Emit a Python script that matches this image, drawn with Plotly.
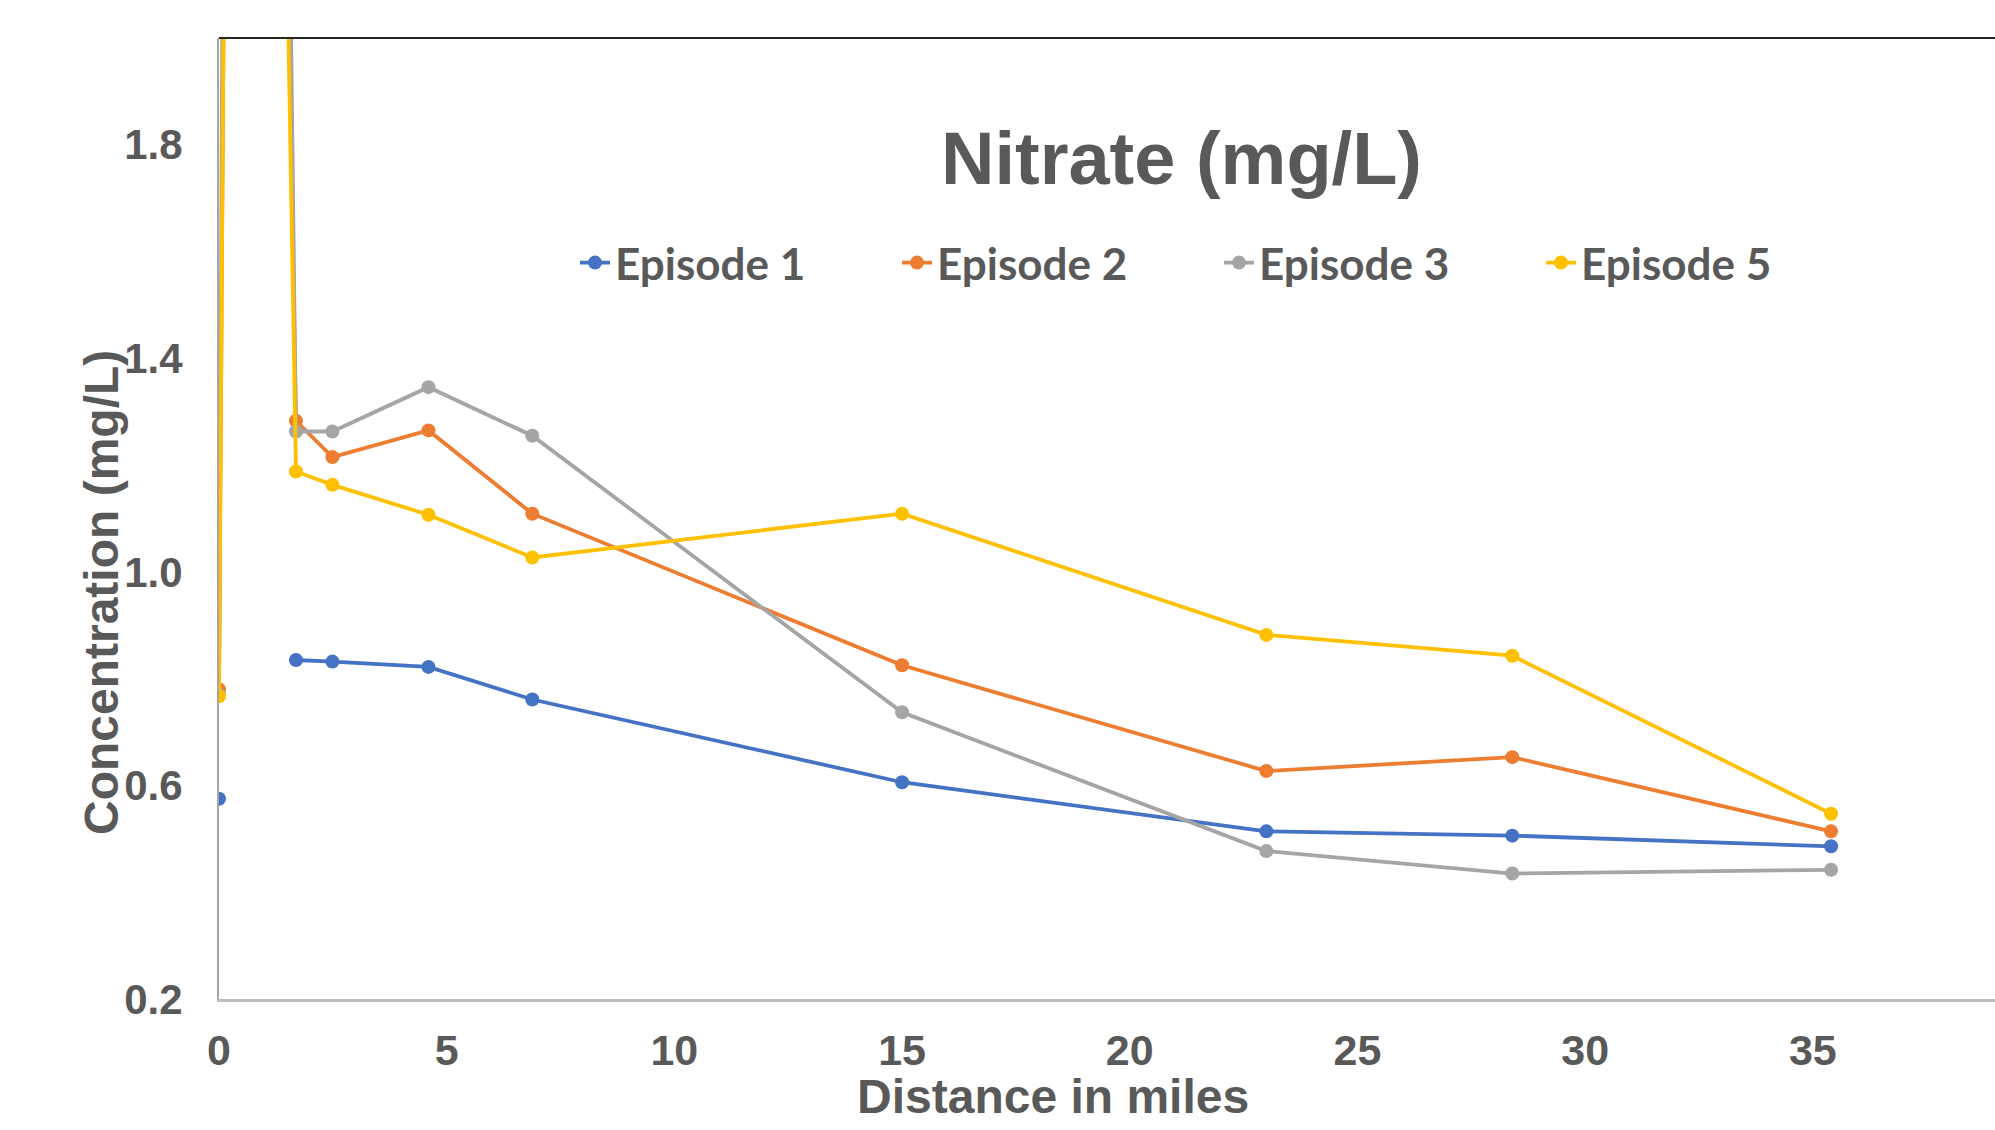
import plotly.graph_objects as go

# Data
distance_miles = [0, 0.5, 1.69, 2.49, 4.6, 6.88, 15.0, 23.0, 28.4, 35.4]
episode_1 = [0.575, None, 0.835, 0.832, 0.822, 0.761, 0.606, 0.514, 0.506, 0.486]
episode_2 = [0.780, 7.0, 1.283, 1.215, 1.265, 1.109, 0.825, 0.627, 0.653, 0.514]
episode_3 = [0.770, 9.5, 1.263, 1.263, 1.346, 1.255, 0.737, 0.477, 0.435, 0.442]
episode_5 = [0.767, 7.1, 1.188, 1.163, 1.107, 1.027, 1.109, 0.882, 0.843, 0.547]

series_names = ["Episode 1", "Episode 2", "Episode 3", "Episode 5"]
series_values = [episode_1, episode_2, episode_3, episode_5]
series_colors = ["#4472C4", "#ED7D31", "#A5A5A5", "#FFC000"]

x_ticks = [0, 5, 10, 15, 20, 25, 30, 35]
y_ticks = [0.2, 0.6, 1.0, 1.4, 1.8]
y_ticktext = ["0.2", "0.6", "1.0", "1.4", "1.8"]

W, H = 1995, 1130
L, R, T, B = 219, 0, 38, 131
PW = W - L - R
PH = H - T - B

text_color = "#595959"
arial = "Liberation Sans"

fig = go.Figure()
for name, vals, col in zip(series_names, series_values, series_colors):
    fig.add_trace(go.Scatter(
        x=distance_miles, y=vals, name=name, mode="lines+markers",
        line=dict(color=col, width=3.8),
        marker=dict(color=col, size=14, line=dict(width=0)),
        connectgaps=False, cliponaxis=True,
    ))

def px_x(px):
    return (px - L) / PW

def px_y(py):
    return (H - B - py) / PH

fig.update_layout(
    width=W, height=H, autosize=False,
    margin=dict(l=L, r=R, t=T, b=B, pad=0, autoexpand=False),
    paper_bgcolor="white", plot_bgcolor="white",
    showlegend=True,
    legend=dict(
        orientation="h", xref="paper", yref="paper",
        x=px_x(575), y=px_y(263), xanchor="left", yanchor="middle",
        font=dict(family="Lato", size=44, color=text_color, weight="bold"),
        entrywidth=277, entrywidthmode="pixels",
        bgcolor="rgba(0,0,0,0)", itemwidth=30,
    ),
    xaxis=dict(
        range=[0, 39], tickmode="array", tickvals=x_ticks,
        showline=True, linecolor="#BFBFBF", linewidth=3,
        showgrid=False, zeroline=False, ticks="",
        ticklabelstandoff=11,
        tickfont=dict(family=arial, size=43, color=text_color, weight="bold"),
    ),
    yaxis=dict(
        range=[0.2, 2.0], tickmode="array", tickvals=y_ticks, ticktext=y_ticktext,
        showline=True, linecolor="#A6A6A6", linewidth=2,
        showgrid=False, zeroline=False, ticks="",
        ticklabelstandoff=26,
        tickfont=dict(family=arial, size=42, color=text_color, weight="bold"),
    ),
    annotations=[
        dict(text="Nitrate (mg/L)", xref="paper", yref="paper",
             x=px_x(1181), y=px_y(159), xanchor="center", yanchor="middle",
             showarrow=False,
             font=dict(family=arial, size=74, color=text_color, weight="bold")),
        dict(text="Distance in miles", xref="paper", yref="paper",
             x=px_x(1053), y=px_y(1096), xanchor="center", yanchor="middle",
             showarrow=False,
             font=dict(family=arial, size=48, color=text_color, weight="bold")),
        dict(text="Concentration (mg/L)", xref="paper", yref="paper",
             x=px_x(101), y=px_y(593), xanchor="center", yanchor="middle",
             textangle=-90, showarrow=False,
             font=dict(family=arial, size=48, color=text_color, weight="bold")),
    ],
    shapes=[
        dict(type="line", xref="paper", yref="paper", x0=0, x1=1, y0=1, y1=1,
             line=dict(color="#262626", width=2)),
    ],
)

fig.write_html("out.html")
